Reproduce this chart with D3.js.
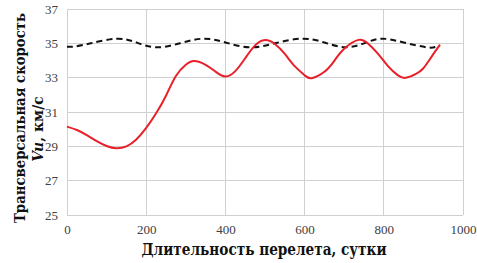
<!DOCTYPE html>
<html><head><meta charset="utf-8">
<script src="https://cdn.jsdelivr.net/npm/d3@7"></script>
<style>body{margin:0;background:#fff}svg{display:block}</style>
</head><body>
<script>
const xTicks = [0, 200, 400, 600, 800, 1000];
const yTicks = [25, 27, 29, 31, 33, 35, 37];
const redX = [0,25,50,75,100,124,150,175,200,225,250,275,300,321,350,375,400,425,450,475,500,525,550,575,600,618,650,675,700,736,760,785,810,835,855,880,900,920,942];
const redY = [30.15,29.95,29.65,29.3,29.02,28.89,29.0,29.4,30.07,30.93,31.95,33.1,33.75,33.97,33.75,33.35,33.07,33.38,34.13,34.88,35.19,34.96,34.38,33.67,33.14,32.97,33.34,33.98,34.68,35.2,34.99,34.4,33.69,33.15,32.99,33.2,33.55,34.2,34.92];
const dashX = [0,20,60,125,175,226,285,344,400,462,525,593,650,702,750,795,850,908,930];
const dashY = [34.8,34.82,35.0,35.27,35.05,34.77,35.0,35.27,35.05,34.77,35.0,35.27,35.05,34.77,35.0,35.27,35.05,34.77,34.79];

const W = 477, H = 263;
const m = {left: 67, right: 14, top: 9, bottom: 48};
const SERIF = "'Liberation Serif','Times New Roman',serif";
const CYR = "'DejaVu Serif Condensed','DejaVu Serif',serif";
const svg = d3.select("body").append("svg").attr("width", W).attr("height", H);
const x = d3.scaleLinear().domain([0, 1000]).range([m.left, W - m.right]);
const y = d3.scaleLinear().domain([25, 37]).range([H - m.bottom, m.top]);

const grid = svg.append("g");
grid.selectAll(".vx").data(xTicks).join("line")
  .attr("x1", d => x(d)).attr("x2", d => x(d)).attr("y1", y(25)).attr("y2", y(37))
  .attr("stroke", "#d0d0d0").attr("stroke-width", 1).attr("shape-rendering", "crispEdges");
grid.selectAll(".hy").data(yTicks).join("line")
  .attr("x1", x(0)).attr("x2", x(1000)).attr("y1", d => y(d)).attr("y2", d => y(d))
  .attr("stroke", "#d0d0d0").attr("stroke-width", 1).attr("shape-rendering", "crispEdges");

const xAxis = svg.append("g").attr("transform", `translate(0,${y(25)})`)
  .call(d3.axisBottom(x).tickValues(xTicks).tickSize(0).tickPadding(10).tickFormat(d3.format("d")));
xAxis.select(".domain").remove();
const yAxis = svg.append("g").attr("transform", `translate(${x(0)},0)`)
  .call(d3.axisLeft(y).tickValues(yTicks).tickSize(0).tickPadding(9).tickFormat(d3.format("d")));
yAxis.select(".domain").remove();
svg.selectAll(".tick text").style("font-family", SERIF).attr("font-size", 13).attr("fill", "#404040");

const line = d3.line().x(d => x(d[0])).y(d => y(d[1])).curve(d3.curveNatural);
svg.append("path").datum(dashX.map((v, i) => [v, dashY[i]]))
  .attr("d", line).attr("fill", "none").attr("stroke", "#111").attr("stroke-width", 2)
  .attr("stroke-dasharray", "6,4");
svg.append("path").datum(redX.map((v, i) => [v, redY[i]]))
  .attr("d", line).attr("fill", "none").attr("stroke", "#e8202a").attr("stroke-width", 2);

svg.append("text").attr("x", 264).attr("y", 255).attr("text-anchor", "middle")
  .style("font-family", CYR).attr("font-weight", "bold").attr("font-size", 16)
  .attr("textLength", 245).attr("lengthAdjust", "spacingAndGlyphs")
  .attr("fill", "#111").text("Длительность перелета, сутки");

const yt = svg.append("g").attr("transform", "rotate(-90)")
  .style("font-family", CYR).attr("font-weight", "bold").attr("font-size", 15.5).attr("fill", "#111");
yt.append("text").attr("x", -118).attr("y", 25).attr("text-anchor", "middle")
  .attr("textLength", 210).attr("lengthAdjust", "spacingAndGlyphs").text("Трансверсальная скорость");
const t2 = yt.append("text").attr("x", -129).attr("y", 43).attr("text-anchor", "middle");
t2.append("tspan").attr("font-style", "italic").text("Vu");
t2.append("tspan").text(", км/с");
</script>
</body></html>
